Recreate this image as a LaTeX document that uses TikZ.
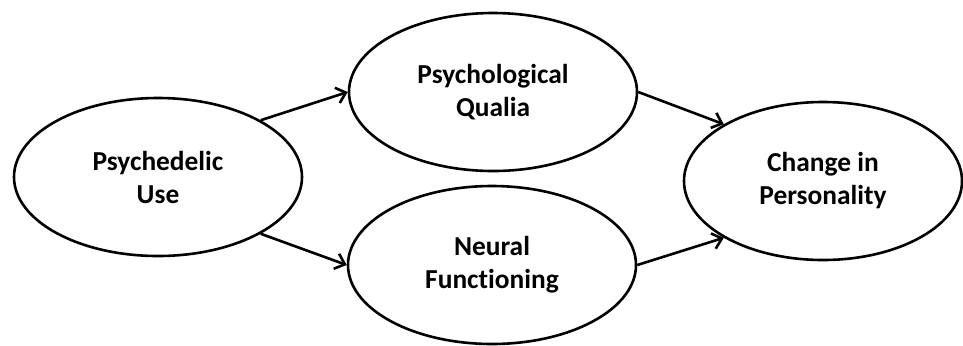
\documentclass[tikz,border=0pt]{standalone}
\usepackage{fontspec}
\setmainfont[Ligatures=NoCommon]{Carlito}
\usepackage{tikz}
\usetikzlibrary{positioning,shapes.geometric,arrows.meta}
\tikzset{
  bubble/.style  = {shape=ellipse, draw, line width=1.3pt, inner sep=0pt,
                    align=center, font=\bfseries\fontsize{13.7}{16.5}\selectfont,
                    minimum width=144pt, minimum height=79pt},
  outcome/.style = {bubble, minimum width=139pt},
  link/.style    = {draw, line width=1.3pt, -{Straight Barb[length=4.5pt,width=8pt]}}
}
\begin{document}
\begin{tikzpicture}
  [
    x = 0.5pt,
    y = -0.5pt
  ]
  \useasboundingbox (0,0) rectangle (963,345);
  \node [bubble]  (use)    at (158,177) {Psychedelic\\Use};
  \node [bubble]  (qualia) at (493,92)  {Psychological\\Qualia};
  \node [bubble]  (neural) at (492,265) {Neural\\Functioning};
  \node [outcome] (change) at (823,181) {Change in\\Personality};
  % paths
  \draw [link] (use.north east) -- (qualia.west);
  \draw [link] (use.south east) -- (neural.west);
  \draw [link] (qualia.east) -- (change.north west);
  \draw [link] (neural.east) -- (change.south west);
\end{tikzpicture}
\end{document}
